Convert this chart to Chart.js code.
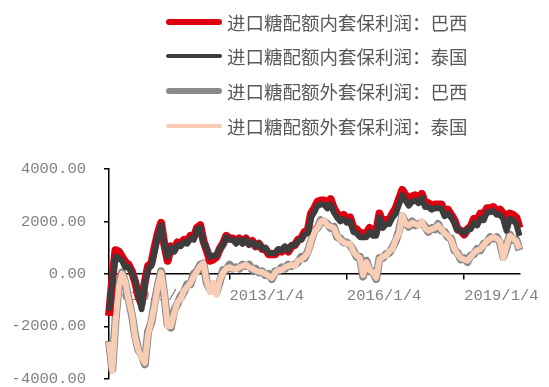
<!DOCTYPE html>
<html>
<head>
<meta charset="utf-8">
<script src="https://cdn.jsdelivr.net/npm/chart.js@4.4.1/dist/chart.umd.min.js"></script>
<style>
	html, body { margin: 0; padding: 0; background: #fff; overflow: hidden; }
	#wrap { position: relative; width: 549px; height: 387px; overflow: hidden; }
	#chart { display: block; }
	#legend { position: absolute; left: 166px; top: 0; font-family: "Noto Sans CJK SC"; font-size: 18.5px; color: #595959; }
	.item { position: absolute; left: 0; white-space: nowrap; height: 24px; line-height: 24px; }
	.swatch { position: absolute; left: 0; width: 56px; }
	.label { position: absolute; left: 61px; top: 0; }
</style>
</head>
<body>
<div id="wrap">
	<canvas id="chart" width="549" height="406"></canvas>
	<div id="legend"></div>
</div>
<script>
const dates = [
	"2009/12/4",
	"2010/1/4", "2010/2/4", "2010/3/4", "2010/4/4", "2010/5/4", "2010/6/4", "2010/7/4", "2010/8/4", "2010/9/4", "2010/10/4", "2010/11/4", "2010/12/4",
	"2011/1/4", "2011/2/4", "2011/3/4", "2011/4/4", "2011/5/4", "2011/6/4", "2011/7/4", "2011/8/4", "2011/9/4", "2011/10/4", "2011/11/4", "2011/12/4",
	"2012/1/4", "2012/2/4", "2012/3/4", "2012/4/4", "2012/5/4", "2012/6/4", "2012/7/4", "2012/8/4", "2012/9/4", "2012/10/4", "2012/11/4", "2012/12/4",
	"2013/1/4", "2013/2/4", "2013/3/4", "2013/4/4", "2013/5/4", "2013/6/4", "2013/7/4", "2013/8/4", "2013/9/4", "2013/10/4", "2013/11/4", "2013/12/4",
	"2014/1/4", "2014/2/4", "2014/3/4", "2014/4/4", "2014/5/4", "2014/6/4", "2014/7/4", "2014/8/4", "2014/9/4", "2014/10/4", "2014/11/4", "2014/12/4",
	"2015/1/4", "2015/2/4", "2015/3/4", "2015/4/4", "2015/5/4", "2015/6/4", "2015/7/4", "2015/8/4", "2015/9/4", "2015/10/4", "2015/11/4", "2015/12/4",
	"2016/1/4", "2016/2/4", "2016/3/4", "2016/4/4", "2016/5/4", "2016/6/4", "2016/7/4", "2016/8/4", "2016/9/4", "2016/10/4", "2016/11/4", "2016/12/4",
	"2017/1/4", "2017/2/4", "2017/3/4", "2017/4/4", "2017/5/4", "2017/6/4", "2017/7/4", "2017/8/4", "2017/9/4", "2017/10/4", "2017/11/4", "2017/12/4",
	"2018/1/4", "2018/2/4", "2018/3/4", "2018/4/4", "2018/5/4", "2018/6/4", "2018/7/4", "2018/8/4", "2018/9/4", "2018/10/4", "2018/11/4", "2018/12/4",
	"2019/1/4", "2019/2/4", "2019/3/4", "2019/4/4", "2019/5/4", "2019/6/4", "2019/7/4", "2019/8/4", "2019/9/4", "2019/10/4", "2019/11/4", "2019/12/4",
	"2020/1/4", "2020/2/4", "2020/3/4", "2020/4/4", "2020/5/4", "2020/6/4"
];

const xTickLabels = ["2010/1/4", "2013/1/4", "2016/1/4", "2019/1/4"];
const yTickValues = [-4000, -2000, 0, 2000, 4000];

const seriesNames = [
	"进口糖配额内套保利润：巴西",
	"进口糖配额内套保利润：泰国",
	"进口糖配额外套保利润：巴西",
	"进口糖配额外套保利润：泰国"
];

// 配额内 巴西
const inQuotaBrazil = [
	-1600, -200, 900, 850, 650, 450, 350, 100, -300, -850, -1150, -300, 300,
	400, 1000, 1550, 1950, 1100, 500, 1050, 900, 1200, 1150, 1300, 1250,
	1450, 1400, 1750, 1850, 1250, 900, 500, 550, 650, 950, 1150, 1450,
	1350, 1350, 1250, 1350, 1200, 1350, 1150, 1250, 1050, 1150, 950, 950,
	750, 750, 750, 900, 850, 1000, 850, 1050, 1100, 1300, 1350, 1600,
	1650, 2300, 2500, 2750, 2800, 2800, 2650, 2850, 2500, 2300, 2150, 2250,
	2100, 2150, 1750, 1700, 1550, 1550, 1550, 1750, 1600, 1600, 2300, 1900,
	2050, 2050, 2300, 2500, 2850, 3200, 3000, 2800, 2950, 3000, 2850, 3050,
	2700, 2700, 2600, 2650, 2650, 2650, 2350, 2450, 2250, 2050, 1700, 1650,
	1500, 1700, 1800, 2100, 2050, 2300, 2250, 2500, 2500, 2550, 2400, 2450,
	2300, 1800, 2300, 2250, 2150, 1750
];

// 配额内 泰国
const inQuotaThai = [
	-1400, -300, 650, 600, 500, 250, 250, 50, -250, -750, -1350, -350, 200,
	300, 850, 1450, 1850, 1050, 650, 1000, 850, 1100, 1050, 1200, 1150,
	1350, 1300, 1700, 1750, 1200, 950, 650, 700, 700, 950, 1100, 1400,
	1300, 1300, 1150, 1300, 1150, 1300, 1100, 1200, 1050, 1150, 950, 1000,
	800, 800, 800, 950, 900, 1050, 900, 1100, 1100, 1250, 1300, 1500,
	1550, 2150, 2350, 2600, 2650, 2650, 2500, 2650, 2350, 2150, 2000, 2100,
	1950, 2000, 1600, 1550, 1400, 1400, 1400, 1600, 1450, 1450, 2150, 1750,
	1900, 1900, 2150, 2300, 2650, 3000, 2800, 2600, 2750, 2800, 2700, 2900,
	2550, 2550, 2450, 2500, 2500, 2500, 2200, 2300, 2150, 1950, 1650, 1650,
	1550, 1700, 1700, 1950, 1850, 2100, 2050, 2350, 2350, 2400, 2250, 2250,
	2100, 1650, 2100, 2050, 1900, 1450
];

// 配额外 巴西
const outQuotaBrazil = [
	-2550, -3650, -1750, -450, 50, -350, -950, -1550, -2350, -2900, -3100, -3450, -2200,
	-1850, -1100, -450, 100, -850, -1950, -2050, -1400, -1150, -850, -700, -400,
	-400, 0, 100, 350, 400, -350, -600, -400, -700, -300, 150, 150,
	350, 200, 250, 200, 350, 300, 350, 150, 200, 50, 100, -50,
	0, -200, 100, 100, 250, 200, 350, 300, 350, 450, 650, 600,
	850, 1250, 1650, 1750, 2050, 2000, 1900, 1750, 1800, 1400, 1350, 1200,
	1200, 1100, 900, 650, 650, -100, 500, 100, 100, -200, 600, 600,
	750, 800, 1000, 1250, 1650, 2200, 1950, 1800, 2000, 1850, 1900, 1950,
	1800, 1600, 1750, 1700, 1900, 1650, 1600, 1400, 1350, 900, 800, 550,
	600, 450, 700, 750, 950, 900, 1150, 1200, 1400, 1350, 1400, 1200,
	650, 1000, 1500, 1300, 1300, 900
];

// 配额外 泰国
const outQuotaThai = [
	-2600, -3700, -1800, -500, 0, -300, -1000, -1500, -2400, -2900, -3200, -3400, -2300,
	-1800, -1200, -450, 50, -800, -2000, -2000, -1500, -1100, -950, -650, -500,
	-350, -100, 100, 300, 400, -300, -700, -350, -800, -250, 50, 200,
	250, 200, 180, 250, 300, 350, 250, 200, 120, 80, 60, 0,
	-80, -150, 50, 150, 150, 250, 300, 350, 300, 500, 550, 650,
	800, 1250, 1600, 1750, 2000, 2050, 1850, 1800, 1750, 1450, 1300, 1200,
	1150, 1150, 850, 700, 600, -50, 450, 150, 50, -150, 550, 650,
	700, 850, 950, 1300, 1550, 2250, 1900, 1850, 1950, 1900, 1850, 2000,
	1750, 1650, 1700, 1750, 1850, 1700, 1550, 1450, 1300, 950, 750, 600,
	550, 500, 650, 800, 900, 950, 1100, 1250, 1350, 1400, 1350, 1250,
	600, 1050, 1450, 1350, 1250, 950
];

const colors = ["#de0011", "#3d3d3d", "#8a8a8a", "#f9cdb5"];
const chartWidths = [8, 6, 8, 6];
const legendWidths = [6, 4, 6, 4];
const legendRows = [22, 56, 91, 126];

function buildLegend() {
	const legend = document.getElementById("legend");
	seriesNames.forEach((name, i) => {
		const item = document.createElement("div");
		item.className = "item";
		item.style.top = (legendRows[i] - 12) + "px";
		const sw = document.createElement("span");
		sw.className = "swatch";
		sw.style.height = legendWidths[i] + "px";
		sw.style.top = (12 - legendWidths[i] / 2) + "px";
		sw.style.borderRadius = legendWidths[i] / 2 + "px";
		sw.style.background = colors[i];
		const tx = document.createElement("span");
		tx.className = "label";
		tx.textContent = name;
		item.appendChild(sw);
		item.appendChild(tx);
		legend.appendChild(item);
	});
}

function makeSet(i, data, order) {
	return {
		label: seriesNames[i],
		data: data,
		borderColor: colors[i],
		backgroundColor: colors[i],
		borderWidth: chartWidths[i],
		pointRadius: 0,
		tension: 0,
		borderJoinStyle: "round",
		order: order
	};
}

const tickFont = { family: "Liberation Mono", size: 15.5 };

buildLegend();

new Chart(document.getElementById("chart"), {
	type: "line",
	data: {
		labels: dates,
		datasets: [
			makeSet(0, inQuotaBrazil, 1),
			makeSet(1, inQuotaThai, 0),
			makeSet(2, outQuotaBrazil, 3),
			makeSet(3, outQuotaThai, 2)
		]
	},
	options: {
		responsive: false,
		animation: false,
		layout: { padding: { top: 169, bottom: 11, right: 18, left: 0 } },
		plugins: { legend: { display: false }, tooltip: { enabled: false } },
		scales: {
			x: {
				type: "category",
				position: { y: 0 },
				offset: false,
				grid: { drawOnChartArea: false, drawTicks: true, tickLength: 5, color: "#000", lineWidth: 1.5 },
				border: { color: "#000", width: 1.5 },
				ticks: {
					autoSkip: false,
					maxRotation: 0,
					align: "start",
					padding: 8,
					color: "#808080",
					font: tickFont,
					callback: (val, idx) => (xTickLabels.includes(dates[idx]) ? dates[idx] : null)
				}
			},
			y: {
				min: -4000,
				max: 4000,
				afterBuildTicks: (scale) => {
					scale.ticks = yTickValues.map((v) => ({ value: v }));
				},
				afterFit: (scale) => {
					scale.width = 109;
				},
				grid: { drawOnChartArea: false, drawTicks: true, tickLength: 5, color: "#000", lineWidth: 1.5 },
				border: { color: "#000", width: 1.5 },
				ticks: {
					padding: 18,
					color: "#808080",
					font: tickFont,
					callback: (v) => Number(v).toFixed(2)
				}
			}
		}
	}
});
</script>
</body>
</html>
